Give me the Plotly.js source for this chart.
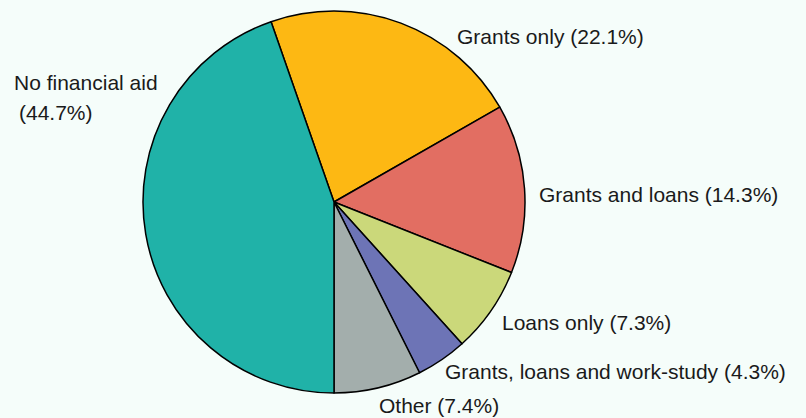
<!DOCTYPE html>
<html>
<head>
<meta charset="utf-8">
<script src="https://cdn.plot.ly/plotly-3.0.1.min.js"></script>
<style>html,body{margin:0;padding:0;background:#F5FDFA;}</style>
</head>
<body>
<div id="chart" style="width:806px;height:418px;"></div>
<script>
const categories = ["Grants only", "Grants and loans", "Loans only", "Grants, loans and work-study", "Other", "No financial aid"];
const values = [22.1, 14.3, 7.3, 4.3, 7.4, 44.7];
const colors = ["#FDB813", "#E26E62", "#CBD87A", "#6D74B6", "#A3AEAC", "#20B2A8"];

const W = 806, H = 418;
const cx = 334, cy = 202, r = 191;

// label placements (pixel left edge, vertical centre)
const labelPos = [
  {x: 455, y: 37},
  {x: 537, y: 194},
  {x: 500, y: 322},
  {x: 443, y: 371},
  {x: 377, y: 405}
];

const FONT = {family: "Liberation Sans, Arial, sans-serif", size: 21, color: "#1a1a1a"};

const annotations = [];
for (let i = 0; i < 5; i++) {
  annotations.push({
    text: categories[i] + " (" + values[i].toFixed(1) + "%)",
    x: labelPos[i].x / W, y: 1 - labelPos[i].y / H,
    xref: "paper", yref: "paper", xanchor: "left", yanchor: "middle",
    showarrow: false, font: FONT
  });
}
annotations.push({
  text: categories[5], x: 12 / W, y: 1 - 83 / H, xref: "paper", yref: "paper",
  xanchor: "left", yanchor: "middle", showarrow: false, font: FONT
});
annotations.push({
  text: "(" + values[5].toFixed(1) + "%)", x: 17 / W, y: 1 - 112 / H, xref: "paper", yref: "paper",
  xanchor: "left", yanchor: "middle", showarrow: false, font: FONT
});

const total = values.reduce((a, b) => a + b, 0);
const beforeLast = values.slice(0, 5).reduce((a, b) => a + b, 0);
const rotation = 180 - beforeLast / total * 360;

Plotly.newPlot("chart", [{
  type: "pie",
  labels: categories,
  values: values,
  sort: false,
  direction: "clockwise",
  rotation: rotation,
  textinfo: "none",
  hoverinfo: "skip",
  marker: {colors: colors, line: {color: "#000000", width: 1.5}},
  domain: {x: [(cx - r) / W, (cx + r) / W], y: [1 - (cy + r) / H, 1 - (cy - r) / H]},
  showlegend: false
}], {
  width: W, height: H,
  margin: {l: 0, r: 0, t: 0, b: 0},
  paper_bgcolor: "#F5FDFA",
  plot_bgcolor: "#F5FDFA",
  annotations: annotations,
  showlegend: false
}, {staticPlot: true});
</script>
</body>
</html>
